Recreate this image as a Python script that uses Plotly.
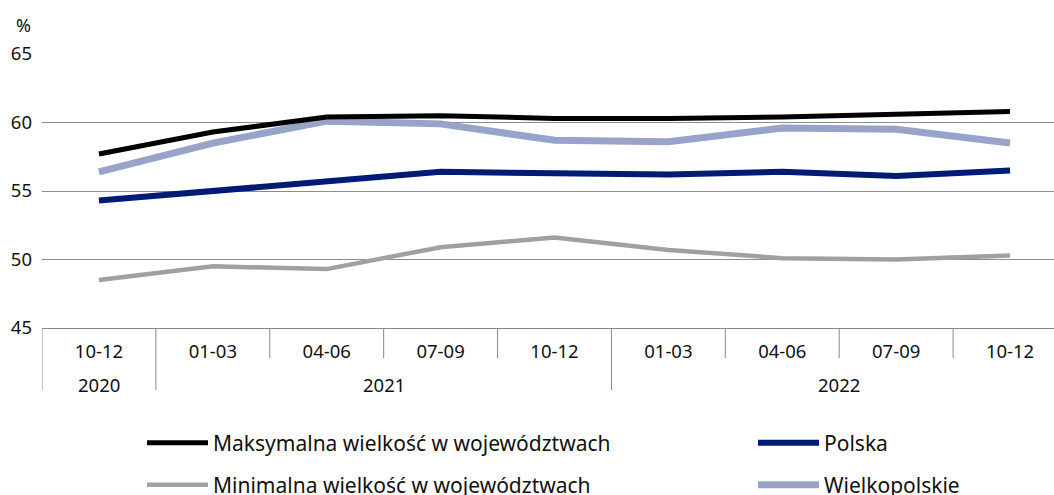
import plotly.graph_objects as go

quarters = ["10-12", "01-03", "04-06", "07-09", "10-12", "01-03", "04-06", "07-09", "10-12"]
years = ["2020", "2021", "2022"]
year_centers = [0, 2.5, 6.5]
year_bounds = [-0.5, 0.5, 4.5]
quarter_bounds = [1.5, 2.5, 3.5, 5.5, 6.5, 7.5]

maks = [57.7, 59.3, 60.4, 60.5, 60.3, 60.3, 60.4, 60.6, 60.8]
polska = [54.3, 55.0, 55.6, 56.4, 56.3, 56.2, 56.4, 56.1, 56.5]
minim = [48.5, 49.5, 49.3, 50.9, 51.6, 50.7, 50.1, 50.0, 50.3]
wielk = [56.4, 58.5, 60.1, 59.9, 58.7, 58.6, 59.6, 59.5, 58.5]

x = list(range(len(quarters)))
FONT = "Noto Sans"
TXT = "#111111"
PW, PH = 1012, 274

fig = go.Figure()
# draw order: bottom to top
fig.add_trace(go.Scatter(x=x, y=minim, mode="lines", name="Minimalna wielkość w województwach",
                         line=dict(color="#a0a0a0", width=4.5), legend="legend3"))
fig.add_trace(go.Scatter(x=x, y=wielk, mode="lines", name="Wielkopolskie",
                         line=dict(color="#97a3c9", width=7), legend="legend4"))
fig.add_trace(go.Scatter(x=x, y=polska, mode="lines", name="Polska",
                         line=dict(color="#001b74", width=6), legend="legend2"))
fig.add_trace(go.Scatter(x=x, y=maks, mode="lines", name="Maksymalna wielkość w województwach",
                         line=dict(color="#000000", width=5), legend="legend"))

shapes = []
for b in year_bounds:
    shapes.append(dict(type="line", xref="x", yref="paper", x0=b, x1=b, y0=0, y1=-62 / PH,
                       line=dict(color="#888888", width=1)))
for b in quarter_bounds:
    shapes.append(dict(type="line", xref="x", yref="paper", x0=b, x1=b, y0=0, y1=-30 / PH,
                       line=dict(color="#888888", width=1)))

annotations = [dict(x=xc, y=-56 / PH, xref="x", yref="paper", text=yr, showarrow=False,
                    font=dict(size=18.5, color=TXT, family=FONT), yanchor="middle")
               for xc, yr in zip(year_centers, years)]
annotations.append(dict(x=-19 / PW, y=(328 - 25) / PH, xref="paper", yref="paper", text="%",
                        showarrow=False, xanchor="center", yanchor="middle",
                        font=dict(size=18, color=TXT, family=FONT)))


def leg(px, py):
    return dict(orientation="v", xanchor="left", yanchor="middle",
                x=(px - 42) / PW, y=(328 - py) / PH, bgcolor="rgba(0,0,0,0)",
                font=dict(size=21, color=TXT, family=FONT), itemwidth=61)


fig.update_layout(
    width=1054, height=495,
    margin=dict(l=42, r=0, t=54, b=167, autoexpand=False),
    paper_bgcolor="white", plot_bgcolor="white",
    font=dict(family=FONT, size=18, color=TXT),
    showlegend=True,
    legend=leg(142, 443),
    legend2=leg(753, 443),
    legend3=leg(142, 485),
    legend4=leg(753, 485),
    shapes=shapes,
    annotations=annotations,
    xaxis=dict(range=[-0.5, 8.386], tickvals=x, ticktext=quarters, showgrid=False,
               showline=True, linecolor="#888888", linewidth=1, ticks="", zeroline=False,
               ticklabelstandoff=7, tickfont=dict(size=18.5, color=TXT, family=FONT)),
    yaxis=dict(range=[45, 65], dtick=5, tick0=45, showgrid=True, gridcolor="#8c8c8c", gridwidth=1,
               zeroline=False, showline=False, ticks="", ticklabelstandoff=9,
               tickfont=dict(size=18.5, color=TXT, family=FONT)),
)

fig.write_html("out.html", config={"displayModeBar": False},
               post_script="document.body.style.margin='0';")
